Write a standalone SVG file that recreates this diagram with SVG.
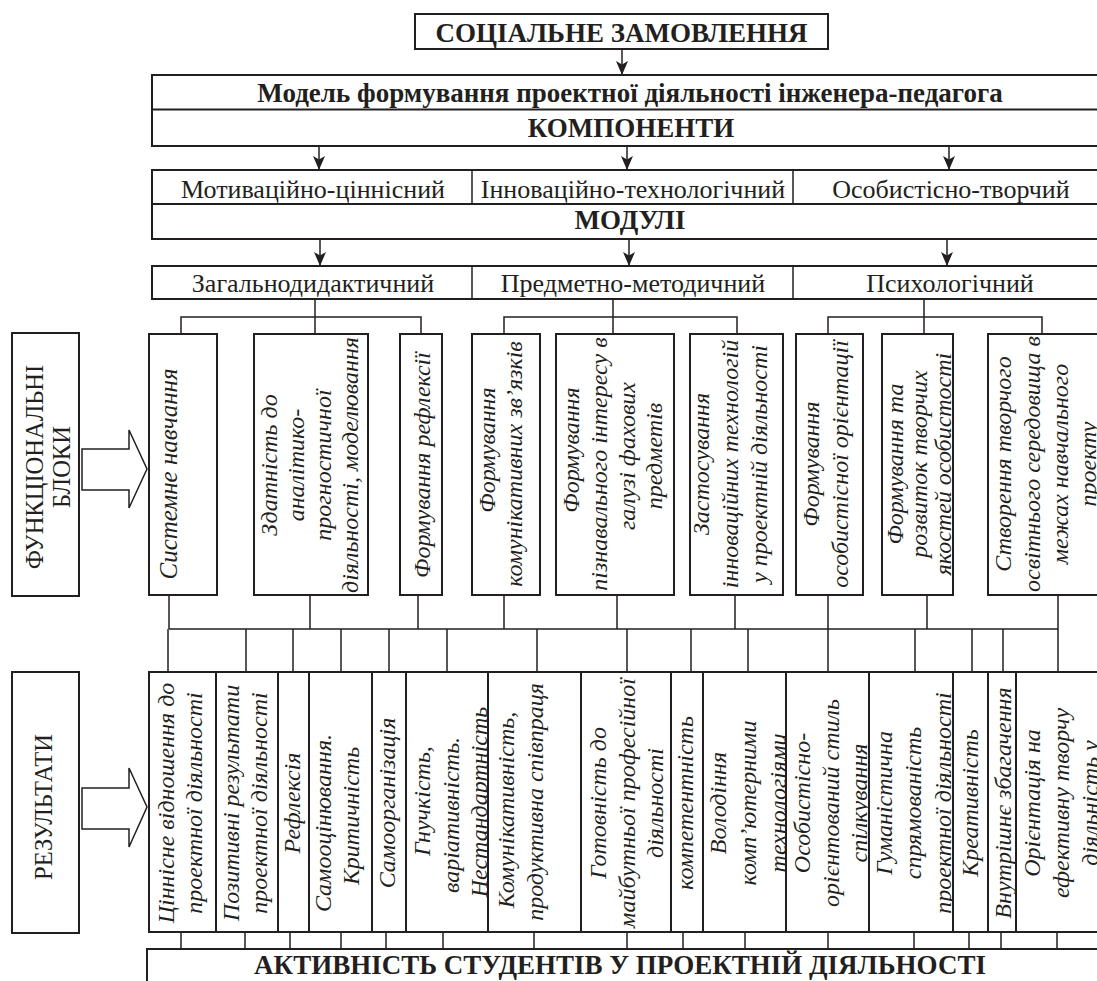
<svg xmlns="http://www.w3.org/2000/svg" width="1097" height="981" viewBox="0 0 1097 981">
<style>
.bx{fill:#fff;stroke:#231f20;stroke-width:2}
.ln{fill:none;stroke:#231f20;stroke-width:1.5}
.t{font-family:"Liberation Serif","Times New Roman",serif;fill:#231f20}
.b{font-weight:bold;font-size:27px;text-anchor:middle}
.r{font-size:26px;text-anchor:middle}
.i{font-style:italic;font-size:24px;text-anchor:middle}
.lb{font-size:24.5px;text-anchor:middle}
</style>
<defs>
<marker id="ah" markerUnits="userSpaceOnUse" viewBox="0 0 14 12" markerWidth="14" markerHeight="12" refX="14" refY="6" orient="auto">
<path d="M0,0 L14,6 L0,12 L3.5,6 Z" fill="#231f20"/>
</marker>
</defs>
<rect width="1097" height="981" fill="#fff"/>

<g id="connectors">
<path class="ln" d="M622,49 V75" marker-end="url(#ah)"/>
<path class="ln" d="M319,146 V170" marker-end="url(#ah)"/>
<path class="ln" d="M627,146 V170" marker-end="url(#ah)"/>
<path class="ln" d="M949,146 V170" marker-end="url(#ah)"/>
<path class="ln" d="M320,239 V266" marker-end="url(#ah)"/>
<path class="ln" d="M629,239 V266" marker-end="url(#ah)"/>
<path class="ln" d="M947,239 V266" marker-end="url(#ah)"/>
<path class="ln" d="M315,299 V334 M181,334 V317 H421 V334"/>
<path class="ln" d="M613,299 V334 M504,334 V317 H737 V334"/>
<path class="ln" d="M924,299 V334 M828,334 V317 H1042 V334"/>
<path class="ln" d="M169,595 V629 M310,595 V629 M418,595 V629 M504,595 V629 M617,595 V629 M735,595 V629 M828,595 V629 M927,595 V629 M1058,595 V629 M169,629 H1058"/>
<path class="ln" d="M168,629 V672 M246,629 V672 M293,629 V672 M341,629 V672 M389,629 V672 M447,629 V672 M537,629 V672 M627,629 V672 M691,629 V672 M748,629 V672 M828,629 V672 M915,629 V672 M972,629 V672 M1003,629 V672 M1058,629 V672"/>
<path class="ln" d="M181,932 V949 M245,932 V949 M290,932 V949 M341,932 V949 M386,932 V949 M443,932 V949 M534,932 V949 M627,932 V949 M683,932 V949 M745,932 V949 M828,932 V949 M914,932 V949 M969,932 V949 M1001,932 V949 M1057,932 V949"/>
</g>

<g id="social-order">
<rect class="bx" x="415" y="14" width="413" height="35"/>
<text class="t b" x="621.5" y="42">СОЦІАЛЬНЕ ЗАМОВЛЕННЯ</text>
</g>

<g id="model">
<rect class="bx" x="152" y="75" width="960" height="71"/>
<line class="ln" x1="152" y1="109.5" x2="1112" y2="109.5" style="stroke-width:2"/>
<text class="t b" x="630" y="102">Модель формування проектної діяльності інженера-педагога</text>
<text class="t b" x="631" y="137">КОМПОНЕНТИ</text>
</g>

<g id="components">
<rect class="bx" x="152" y="170" width="960" height="69"/>
<line class="ln" x1="152" y1="204" x2="1112" y2="204" style="stroke-width:2"/>
<line class="ln" x1="472" y1="170" x2="472" y2="204"/>
<line class="ln" x1="793" y1="170" x2="793" y2="204"/>
<text class="t r" x="313" y="198">Мотиваційно-ціннісний</text>
<text class="t r" x="633" y="198">Інноваційно-технологічний</text>
<text class="t r" x="951" y="198">Особистісно-творчий</text>
<text class="t b" x="630" y="229">МОДУЛІ</text>
</g>

<g id="modules">
<rect class="bx" x="152" y="266" width="960" height="33"/>
<line class="ln" x1="472" y1="266" x2="472" y2="299"/>
<line class="ln" x1="793" y1="266" x2="793" y2="299"/>
<text class="t r" x="313" y="292">Загальнодидактичний</text>
<text class="t r" x="633" y="292">Предметно-методичний</text>
<text class="t r" x="950" y="292">Психологічний</text>
</g>

<g id="label-blocks">
<rect class="bx" x="12" y="333" width="67" height="263"/>
<g transform="rotate(-90)">
<text class="t lb" x="-467" y="43">ФУНКЦІОНАЛЬНІ</text>
<text class="t lb" x="-467" y="70">БЛОКИ</text>
</g>
<polygon class="ln" style="fill:#fff" points="82,449 129,449 129,430 147,469 129,508 129,490 82,490"/>
</g>

<g id="label-results">
<rect class="bx" x="12" y="672" width="67" height="261"/>
<g transform="rotate(-90)">
<text class="t lb" x="-807" y="52">РЕЗУЛЬТАТИ</text>
</g>
<polygon class="ln" style="fill:#fff" points="82,788 129,788 129,768 147,807 129,847 129,829 82,829"/>
</g>

<g id="fb1"><rect class="bx" x="149" y="334" width="68" height="261"/>
<g transform="rotate(-90)"><text class="t i" x="-474" y="177" style="font-size:25px">Системне навчання</text></g></g>
<g id="fb2"><rect class="bx" x="254" y="334" width="114" height="261"/>
<g transform="rotate(-90)">
<text class="t i" x="-465" y="277">Здатність до</text>
<text class="t i" x="-465" y="304">аналітико-</text>
<text class="t i" x="-465" y="331">прогностичної</text>
<text class="t i" x="-465" y="358">діяльності, моделювання</text></g></g>
<g id="fb3"><rect class="bx" x="400" y="334" width="42" height="261"/>
<g transform="rotate(-90)"><text class="t i" x="-465" y="430">Формування рефлексії</text></g></g>
<g id="fb4"><rect class="bx" x="472" y="334" width="68" height="261"/>
<g transform="rotate(-90)">
<text class="t i" x="-450" y="495">Формування</text>
<text class="t i" x="-464" y="522">комунікативних зв’язків</text></g></g>
<g id="fb5"><rect class="bx" x="556" y="334" width="118" height="261"/>
<g transform="rotate(-90)">
<text class="t i" x="-450" y="579">Формування</text>
<text class="t i" x="-464" y="607">пізнавального інтересу в</text>
<text class="t i" x="-456" y="635">галузі фахових</text>
<text class="t i" x="-456" y="662">предметів</text></g></g>
<g id="fb6"><rect class="bx" x="690" y="334" width="93" height="261"/>
<g transform="rotate(-90)">
<text class="t i" x="-464" y="709">Застосування</text>
<text class="t i" x="-464" y="738">інноваційних технологій</text>
<text class="t i" x="-464" y="767">у проектній діяльності</text></g></g>
<g id="fb7"><rect class="bx" x="796" y="334" width="67" height="261"/>
<g transform="rotate(-90)">
<text class="t i" x="-464" y="819">Формування</text>
<text class="t i" x="-464" y="848">особистісної орієнтації</text></g></g>
<g id="fb8"><rect class="bx" x="882" y="334" width="71" height="261"/>
<g transform="rotate(-90)">
<text class="t i" x="-464" y="903">Формування та</text>
<text class="t i" x="-464" y="927">розвиток творчих</text>
<text class="t i" x="-464" y="951">якостей особистості</text></g></g>
<g id="fb9"><rect class="bx" x="988" y="334" width="130" height="261"/>
<g transform="rotate(-90)">
<text class="t i" x="-464" y="1011">Створення творчого</text>
<text class="t i" x="-464" y="1040">освітнього середовища в</text>
<text class="t i" x="-464" y="1068">межах навчального</text>
<text class="t i" x="-464" y="1096">проекту</text></g></g>

<g id="r1"><rect class="bx" x="149" y="672" width="67" height="260"/>
<g transform="rotate(-90)">
<text class="t i" x="-803" y="174">Ціннісне відношення до</text>
<text class="t i" x="-803" y="202">проектної діяльності</text></g></g>
<g id="r2"><rect class="bx" x="216" y="672" width="62" height="260"/>
<g transform="rotate(-90)">
<text class="t i" x="-803" y="239">Позитивні результати</text>
<text class="t i" x="-803" y="267">проектної діяльності</text></g></g>
<g id="r3"><rect class="bx" x="278" y="672" width="31" height="260"/>
<g transform="rotate(-90)"><text class="t i" x="-803" y="300">Рефлексія</text></g></g>
<g id="r4"><rect class="bx" x="309" y="672" width="63" height="260"/>
<g transform="rotate(-90)">
<text class="t i" x="-823" y="331">Самооцінювання.</text>
<text class="t i" x="-816" y="359">Критичність</text></g></g>
<g id="r5"><rect class="bx" x="372" y="672" width="34" height="260"/>
<g transform="rotate(-90)"><text class="t i" x="-803" y="395">Самоорганізація</text></g></g>
<g id="r6"><rect class="bx" x="406" y="672" width="82" height="260"/>
<g transform="rotate(-90)">
<text class="t i" x="-801" y="430">Гнучкість,</text>
<text class="t i" x="-815" y="459">варіативність.</text>
<text class="t i" x="-802" y="487">Нестандартність</text></g></g>
<g id="r7"><rect class="bx" x="488" y="672" width="93" height="260"/>
<g transform="rotate(-90)">
<text class="t i" x="-810" y="514">Комунікативність,</text>
<text class="t i" x="-802" y="543">продуктивна співпраця</text></g></g>
<g id="r8"><rect class="bx" x="581" y="672" width="90" height="260"/>
<g transform="rotate(-90)">
<text class="t i" x="-803" y="606">Готовність до</text>
<text class="t i" x="-803" y="635">майбутньої професійної</text>
<text class="t i" x="-803" y="663">діяльності</text></g></g>
<g id="r9"><rect class="bx" x="671" y="672" width="32" height="260"/>
<g transform="rotate(-90)"><text class="t i" x="-803" y="693">компетентність</text></g></g>
<g id="r10"><rect class="bx" x="703" y="672" width="83" height="260"/>
<g transform="rotate(-90)">
<text class="t i" x="-803" y="726">Володіння</text>
<text class="t i" x="-803" y="756">комп’ютерними</text>
<text class="t i" x="-803" y="786">технологіями</text></g></g>
<g id="r11"><rect class="bx" x="786" y="672" width="83" height="260"/>
<g transform="rotate(-90)">
<text class="t i" x="-803" y="810">Особистісно-</text>
<text class="t i" x="-803" y="839">орієнтований стиль</text>
<text class="t i" x="-803" y="867">спілкування</text></g></g>
<g id="r12"><rect class="bx" x="869" y="672" width="84" height="260"/>
<g transform="rotate(-90)">
<text class="t i" x="-803" y="892">Гуманістична</text>
<text class="t i" x="-803" y="921">спрямованість</text>
<text class="t i" x="-803" y="951">проектної діяльності</text></g></g>
<g id="r13"><rect class="bx" x="953" y="672" width="35" height="260"/>
<g transform="rotate(-90)"><text class="t i" x="-803" y="978">Креативність</text></g></g>
<g id="r14"><rect class="bx" x="988" y="672" width="28" height="260"/>
<g transform="rotate(-90)"><text class="t i" x="-803" y="1011">Внутрішнє збагачення</text></g></g>
<g id="r15"><rect class="bx" x="1016" y="672" width="100" height="260"/>
<g transform="rotate(-90)">
<text class="t i" x="-803" y="1040">Орієнтація на</text>
<text class="t i" x="-803" y="1069">ефективну творчу</text>
<text class="t i" x="-803" y="1098">діяльність у</text></g></g>

<g id="activity">
<rect class="bx" x="147" y="949" width="965" height="45"/>
<text class="t b" x="620" y="974">АКТИВНІСТЬ СТУДЕНТІВ У ПРОЕКТНІЙ ДІЯЛЬНОСТІ</text>
</g>
</svg>
